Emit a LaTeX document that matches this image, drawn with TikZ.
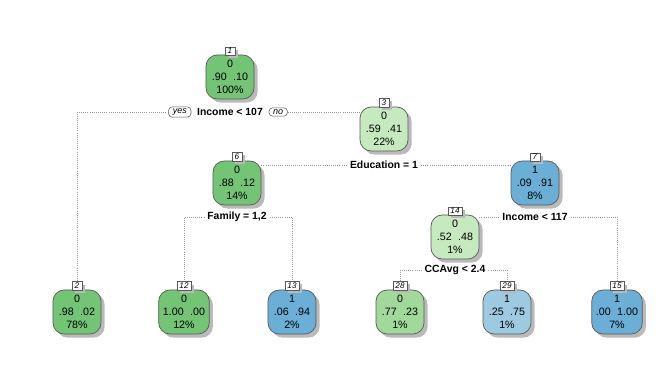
\documentclass[tikz,border=0pt]{standalone}
\usepackage{fontspec}
\setmainfont{Liberation Sans}
\usetikzlibrary{positioning,shadows,backgrounds}

\definecolor{grnA}{HTML}{74C476}
\definecolor{grnB}{HTML}{C7E9C0}
\definecolor{grnC}{HTML}{A1D99B}
\definecolor{bluA}{HTML}{6BAED6}
\definecolor{bluB}{HTML}{9ECAE1}

\newcommand{\pgap}{\hspace{0.6em}}

\tikzset{
  treenode/.style={draw=black!65, line width=0.5pt, rounded corners=8pt, align=center,
    minimum width=1.2cm, minimum height=1.1cm, inner xsep=3pt,
    font=\fontsize{7.6}{9.3}\selectfont,
    drop shadow={shadow xshift=2.6pt, shadow yshift=-2.6pt, fill=black!27, opacity=1}},
  nodeid/.style={draw=black!65, fill=white, line width=0.4pt, inner xsep=1.6pt, inner ysep=1pt,
    minimum width=7pt, font=\fontsize{5.8}{6}\itshape\selectfont,
    drop shadow={shadow xshift=2pt, shadow yshift=-2pt, fill=black!27, opacity=1}},
  splitlab/.style={font=\fontsize{7.4}{8}\bfseries\selectfont, inner xsep=2pt, inner ysep=1pt},
  yesno/.style={draw=black!65, fill=white, line width=0.4pt, rounded corners=2.5pt,
    inner xsep=3pt, inner ysep=1.2pt, font=\fontsize{6.4}{7}\itshape\selectfont},
  branch/.style={black!40, densely dotted, line width=0.5pt}
}

\begin{document}
\begin{tikzpicture}[x=0.025cm, y=-0.025cm]
\useasboundingbox (0,0) rectangle (656,368);

% split nodes
\node[treenode, fill=grnA] (n1) at (230,77) {0\\.90\pgap.10\\100\%};
\node[treenode, fill=grnB] (n3) at (384,129) {0\\.59\pgap.41\\22\%};
\node[treenode, fill=grnA] (n6) at (237,183) {0\\.88\pgap.12\\14\%};
\node[treenode, fill=bluA] (n7) at (535,183) {1\\.09\pgap.91\\8\%};
\node[treenode, fill=grnB] (n14) at (455,237) {0\\.52\pgap.48\\1\%};

% leaves
\node[treenode, fill=grnA] (n2) at (77,312) {0\\.98\pgap.02\\78\%};
\node[treenode, fill=grnA] (n12) at (184,312) {0\\1.00\pgap.00\\12\%};
\node[treenode, fill=bluA] (n13) at (292,312) {1\\.06\pgap.94\\2\%};
\node[treenode, fill=grnC] (n28) at (400,312) {0\\.77\pgap.23\\1\%};
\node[treenode, fill=bluB] (n29) at (507,312) {1\\.25\pgap.75\\1\%};
\node[treenode, fill=bluA] (n15) at (617,312) {1\\.00\pgap1.00\\7\%};

% node numbers
\foreach \k in {1,3,6,7,14,2,12,13,28,29,15}
  \node[nodeid, above=-0.6pt of n\k] (id\k) {\k};

% split labels
\node[splitlab] (s1) at (230,112) {Income < 107};
\node[yesno, left=2pt of s1] (yes) {yes};
\node[yesno, right=2pt of s1] (no) {no};
\node[splitlab] (s3) at (384,165) {Education = 1};
\node[splitlab] (s6) at (237,217) {Family = 1,2};
\node[splitlab] (s7) at (535,217) {Income < 117};
\node[splitlab] (s14) at (455,270) {CCAvg < 2.4};

% branches
\begin{scope}[on background layer]
\draw[branch] (yes.west) -| (id2.north);
\draw[branch] (no.east) -- (n3.west |- no.east);
\draw[branch] (n6.east |- s3.west) -- (s3.west);
\draw[branch] (s3.east) -- (n7.west |- s3.east);
\draw[branch] (s6.west) -| (id12.north);
\draw[branch] (s6.east) -| (id13.north);
\draw[branch] (n14.east |- s7.west) -- (s7.west);
\draw[branch] (s7.east) -| (id15.north);
\draw[branch] (s14.west) -| (id28.north);
\draw[branch] (s14.east) -| (id29.north);
\end{scope}
\end{tikzpicture}
\end{document}
